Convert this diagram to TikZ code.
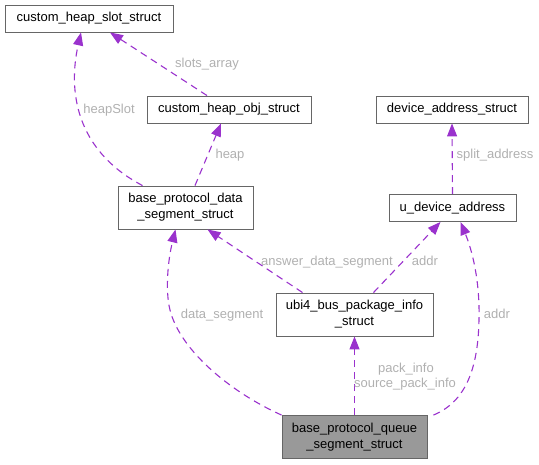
\documentclass[tikz,border=0pt]{standalone}
\usepackage{fontspec}
\setmainfont{Liberation Sans}
\usetikzlibrary{arrows.meta}
\definecolor{edgecol}{HTML}{9A32CD}
\definecolor{labelcol}{HTML}{B0B0B0}
\definecolor{boxline}{HTML}{666666}
\definecolor{boxfill}{HTML}{999999}

\begin{document}
\begin{tikzpicture}[
  x=1pt, y=-1pt,
  cls/.style={
    draw=boxline, fill=white, line width=0.9pt,
    minimum height=27pt, inner sep=0pt, align=center,
    font=\fontsize{13}{16}\selectfont
  },
  cls2/.style={
    cls, minimum height=43pt
  },
  rel/.style={
    -{Triangle[length=13pt,width=10pt]}, draw=edgecol,
    line width=1.1pt, dash pattern=on 7pt off 5pt
  },
  lbl/.style={
    text=labelcol, anchor=base, inner sep=0pt,
    font=\fontsize{13}{16}\selectfont
  }
]
\useasboundingbox (0,0) rectangle (539,464);

% Structs
\node[cls, minimum width=168pt]  (slot)  at (89,18.5)    {custom\_heap\_slot\_struct};
\node[cls, minimum width=164pt]  (obj)   at (229,109.5)  {custom\_heap\_obj\_struct};
\node[cls, minimum width=152pt]  (dev)   at (452,109.5)  {device\_address\_struct};
\node[cls2, minimum width=135pt] (data)  at (185.5,207.5){base\_protocol\_data\\\_segment\_struct};
\node[cls, minimum width=127pt]  (udev)  at (452.5,208)  {u\_device\_address};
\node[cls2, minimum width=157pt] (ubi)   at (354.5,314.5){ubi4\_bus\_package\_info\\\_struct};
\node[cls2, minimum width=145pt, fill=boxfill] (queue) at (354.5,437) {base\_protocol\_queue\\\_segment\_struct};

% Member relations
\draw[rel] ([xshift=-22pt]obj.north) -- ([xshift=21pt]slot.south);
\draw[rel] ([xshift=-43pt]data.north) .. controls (75,150) and (68,90) .. ([xshift=-8pt]slot.south);
\draw[rel] ([xshift=9.5pt]data.north) -- ([xshift=-8pt]obj.south);
\draw[rel] (udev.north) -- (dev.south);
\draw[rel] ([xshift=-52pt]ubi.north) -- ([xshift=22pt]data.south);
\draw[rel] ([xshift=19pt]ubi.north) -- ([xshift=-12pt]udev.south);
\draw[rel] (queue.north west) .. controls (230,392) and (180,350) .. (170,310)
  .. controls (165,290) and (168,260) .. ([xshift=-10pt]data.south);
\draw[rel] (queue.north) -- (ubi.south);
\draw[rel] ([xshift=6pt]queue.north east) .. controls (465,402) and (478,370) .. (479,320)
  .. controls (480,280) and (472,250) .. ([xshift=8pt]udev.south);

% Labels
\node[lbl] (lslots)  at (207,67.5)  {slots\_array};
\node[lbl] (lhslot)  at (109,113.5) {heapSlot};
\node[lbl] (lheap)   at (230,158.5) {heap};
\node[lbl] (lsplit)  at (495,158.5) {split\_address};
\node[lbl] (lanswer) at (327,265.5) {answer\_data\_segment};
\node[lbl] (laddr)   at (425,265.5) {addr};
\node[lbl] (ldata)   at (222,318.5) {data\_segment};
\node[lbl] (laddrq)  at (497,318.5) {addr};
\node[lbl] (lpack)   at (406,372.5) {pack\_info};
\node[lbl] (lsrc)    at (405,387.5) {source\_pack\_info};

\end{tikzpicture}
\end{document}
